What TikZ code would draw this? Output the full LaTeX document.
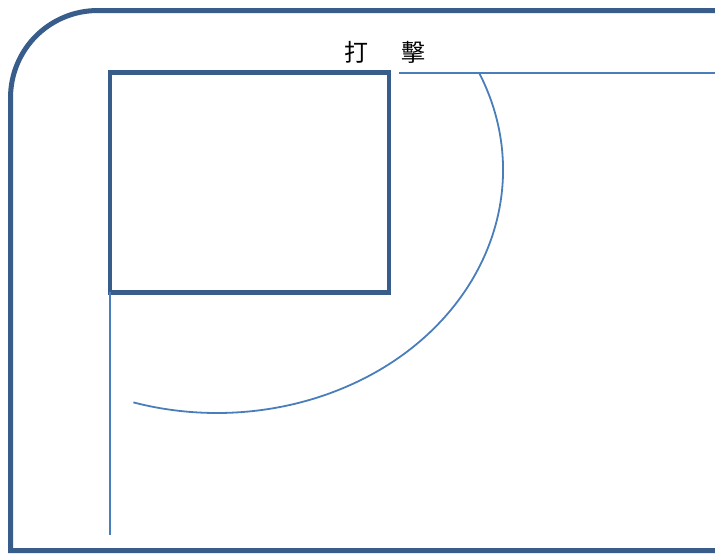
\documentclass[tikz,border=0pt]{standalone}
\usepackage{fontspec}
\newfontfamily\cjk{Noto Sans CJK TC}
\definecolor{framecol}{HTML}{385D8A}
\definecolor{linecol}{HTML}{4A7EBB}
\tikzset{
  thickframe/.style={draw=framecol, line width=5pt},
  squarebox/.style={draw=framecol, line width=4.8pt, minimum width=279pt,
    minimum height=219.5pt, inner sep=0pt, outer sep=0pt},
  thinline/.style={draw=linecol, line width=1.8pt}
}

\begin{document}
\begin{tikzpicture}[x=1pt, y=-1pt]
  \useasboundingbox (0,0) rectangle (715,557);

  % outer frame, open to the right
  \coordinate (frametop) at (715,10.5);
  \coordinate (framebottom) at (715,550.5);
  \draw[thickframe]
  (frametop) --
  (98,10.5) .. controls (49.4,10.5) and (10.5,49.4) .. (10.5,98) --
  (10.5,550.5) --
  (framebottom);

  \node[squarebox] (box) at (249.5,182.6) {};

  \node[font=\cjk\fontsize{24pt}{28pt}\selectfont, inner sep=0pt] (label)
    at (384.5,52) {打\hspace{33pt}擊};

  \coordinate (lineleft) at (399,73);
  \coordinate (lineright) at (715,73);
  \draw[thinline] (lineleft) -- (lineright);

  \coordinate (lowend) at (110,535);
  \draw[thinline] (box.south west) -- (lowend);

  % the curve
  \coordinate (curvecenter) at (217,170);
  \draw[thinline] (curvecenter) ++(23.6:286pt and 243pt)
    arc[start angle=23.6, end angle=-107, x radius=286pt, y radius=243pt];

\end{tikzpicture}
\end{document}
